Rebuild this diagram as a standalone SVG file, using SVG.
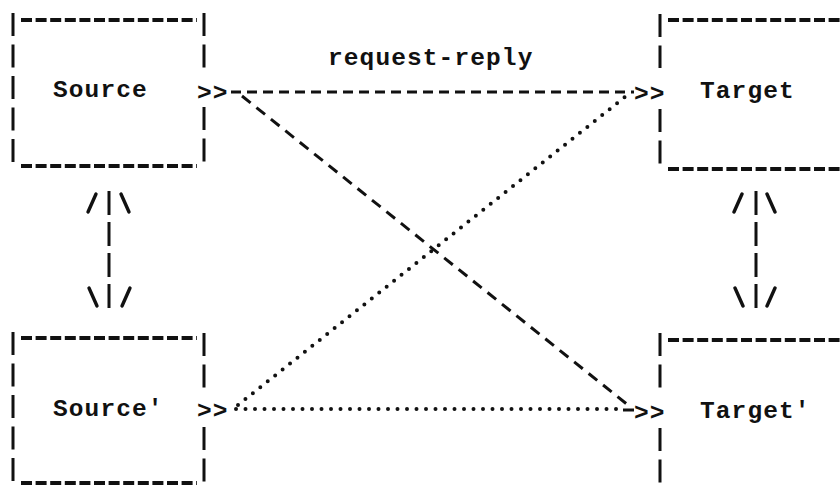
<svg xmlns="http://www.w3.org/2000/svg" width="840" height="486" viewBox="0 0 840 486">
  <defs>
    <style>
      .bg { fill: #ffffff; }
      .txt { font-family: "Courier New", "Liberation Mono", "DejaVu Sans Mono", monospace; font-weight: bold; font-size: 24.5px; letter-spacing: 1.1px; fill: #111; }
      .hline { stroke: #111; stroke-width: 3.8; fill: none; stroke-dasharray: 11 3.6; stroke-linecap: butt; }
      .vbar { stroke: #111; stroke-width: 3; fill: none; stroke-dasharray: 23 8.5; }
      .tick { stroke: #111; stroke-width: 3.4; stroke-linecap: round; fill: none; }
      .dashed { stroke: #111; stroke-width: 3; fill: none; stroke-dasharray: 10 6; }
      .dashed-diag { stroke: #111; stroke-width: 3; fill: none; stroke-dasharray: 11 7.5; }
      .dotted { stroke: #111; stroke-width: 4; fill: none; stroke-dasharray: 0 9.5; stroke-linecap: round; }
      .vlink { stroke: #111; stroke-width: 3; fill: none; stroke-dasharray: 24 7; }
    </style>
  </defs>

  <rect class="bg" x="0" y="0" width="840" height="486"/>

  <!-- Source box -->
  <g id="source">
    <path class="hline" d="M21 20 H197"/>
    <path class="hline" d="M21 166 H197"/>
    <path class="vbar" d="M13 13 V170"/>
    <path class="vbar" d="M204 13 V68"/>
    <path class="vbar" d="M204 107 V170"/>
    <text class="txt" x="53" y="97">Source</text>
    <text class="txt" x="197" y="100">&gt;&gt;</text>
  </g>

  <!-- Target box -->
  <g id="target">
    <path class="hline" d="M668 20 H840"/>
    <path class="hline" d="M668 169 H840"/>
    <path class="vbar" d="M660 14 V68"/>
    <path class="vbar" d="M660 109 V171"/>
    <text class="txt" x="700" y="98">Target</text>
    <text class="txt" x="634" y="101">&gt;&gt;</text>
  </g>

  <!-- Source' box -->
  <g id="source-prime">
    <path class="hline" d="M21 338 H197"/>
    <path class="hline" d="M21 483 H197"/>
    <path class="vbar" d="M13 332 V486"/>
    <path class="vbar" d="M204 333 V389"/>
    <path class="vbar" d="M204 427 V486"/>
    <text class="txt" x="53" y="416">Source'</text>
    <text class="txt" x="197" y="418">&gt;&gt;</text>
  </g>

  <!-- Target' box -->
  <g id="target-prime">
    <path class="hline" d="M668 340 H840"/>
    <path class="vbar" d="M660 333 V389"/>
    <path class="vbar" d="M660 428 V486"/>
    <text class="txt" x="700" y="418">Target'</text>
    <text class="txt" x="634" y="420">&gt;&gt;</text>
  </g>

  <!-- Label over the request-reply link -->
  <g id="label">
    <text class="txt" x="328" y="65">request-reply</text>
  </g>

  <!-- Connectors -->
  <g id="connectors">
    <!-- Source -> Target -->
    <path class="dashed" d="M231 92 H634"/>
    <!-- Source -> Target' -->
    <path class="dashed-diag" d="M242 96 L628 405"/>
    <!-- Source' -> Target -->
    <path class="dotted" d="M238 405 L630 93"/>
    <!-- Source' -> Target' -->
    <path class="dotted" d="M236 409 H622"/>
    <path class="dashed" d="M623 410 H634" style="stroke-dasharray:none"/>

    <!-- Source <-> Source' -->
    <path class="vlink" d="M109 191 V309"/>
    <path class="tick" d="M88 212 L96 194 M121 194 L129 212"/>
    <path class="tick" d="M89 288 L97 306 M122 306 L130 288"/>

    <!-- Target <-> Target' -->
    <path class="vlink" d="M756 191 V309"/>
    <path class="tick" d="M734 212 L742 194 M767 194 L775 212"/>
    <path class="tick" d="M735 288 L743 306 M767 306 L775 288"/>
  </g>
</svg>
